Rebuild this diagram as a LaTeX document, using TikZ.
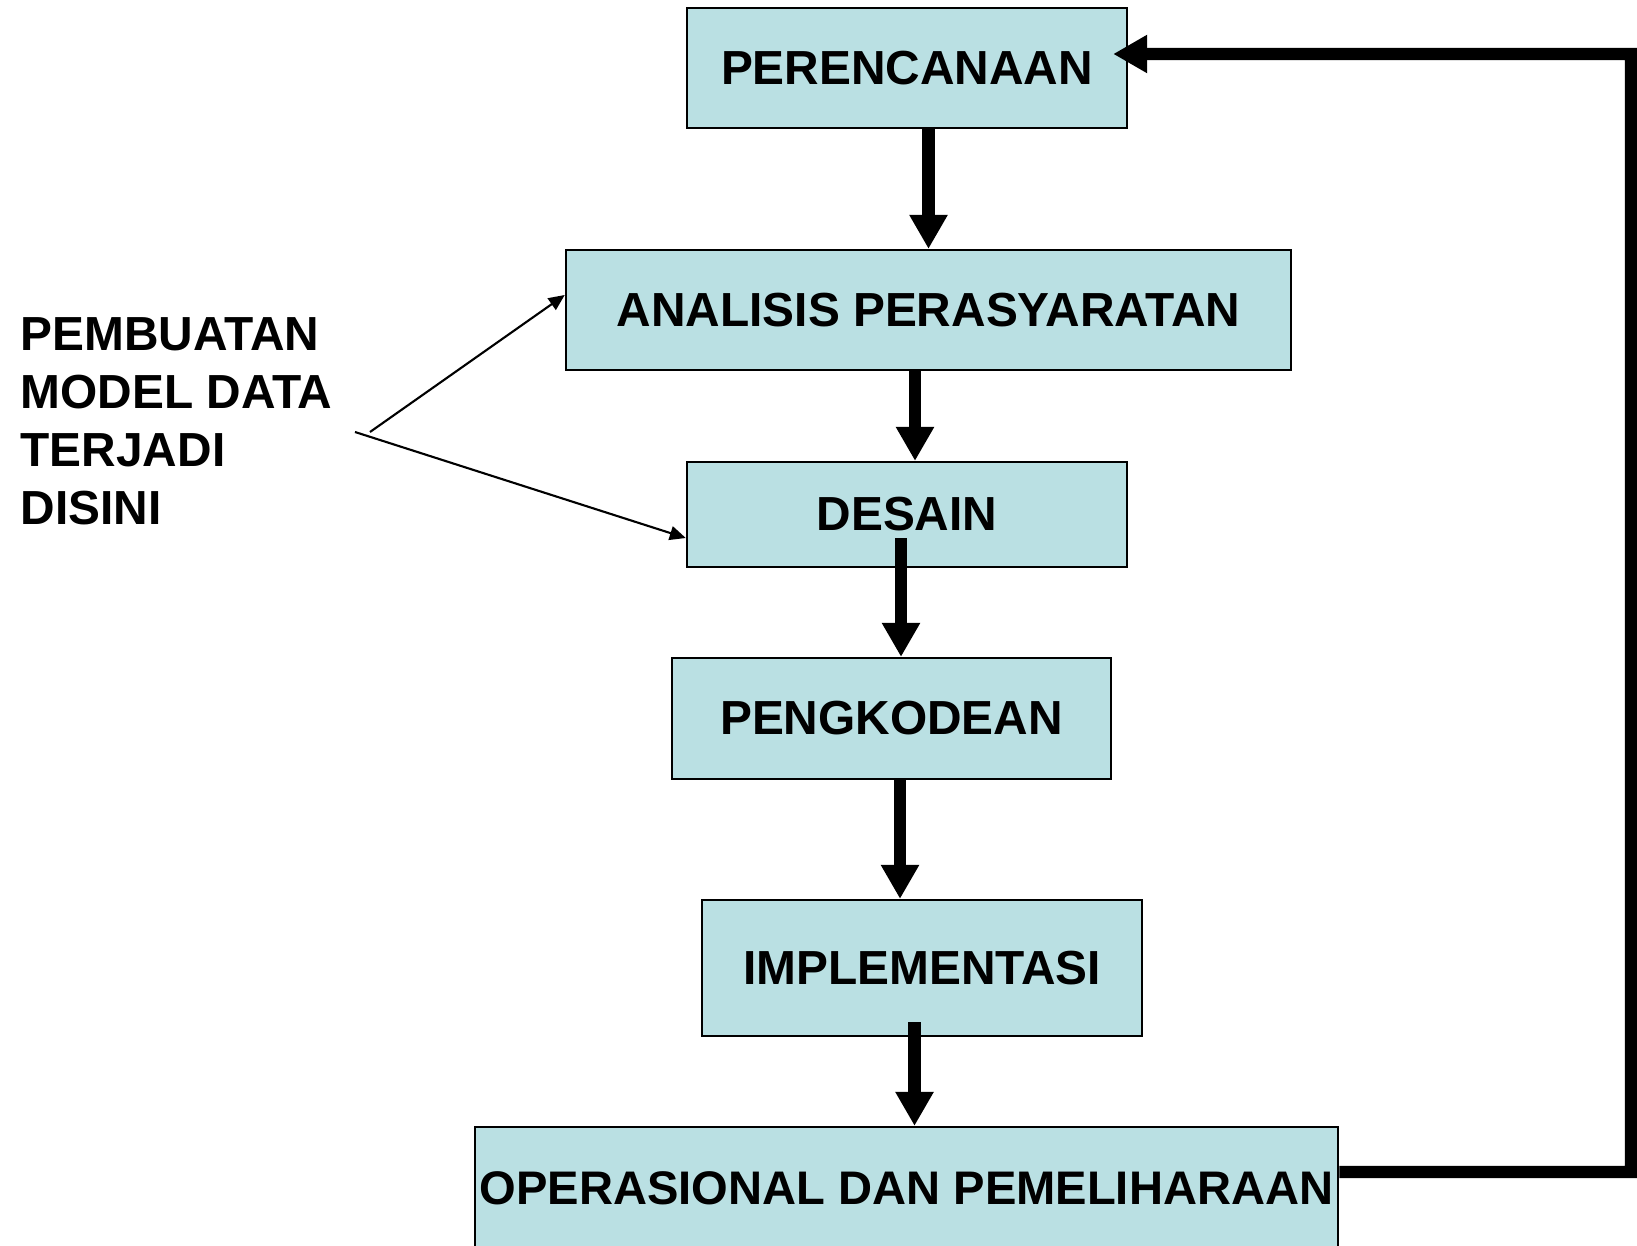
\documentclass[tikz,border=0pt]{standalone}
\usepackage{fontspec}
\setmainfont{Liberation Sans}
\usetikzlibrary{arrows.meta}
\definecolor{kotak}{RGB}{186,224,227}
\tikzset{
  tahap/.style={draw=black, line width=0.6pt, fill=kotak, inner sep=0pt,
    font=\fontsize{13.6pt}{16pt}\selectfont\bfseries},
  panah/.style={line width=3.5pt, -{Triangle[width=0.36cm,length=0.34cm]}},
  panahtipis/.style={line width=0.6pt, -{Triangle[width=0.14cm,length=0.16cm]}}
}
\begin{document}
\begin{tikzpicture}[x=0.01cm,y=-0.01cm]
\useasboundingbox (0,0) rectangle (1637,1246);

% Tahapan
\foreach \nama/\x/\y/\w/\h/\teks in {
plan/907/68/4.40/1.20/PERENCANAAN,
anal/928.5/310/7.25/1.20/ANALISIS PERASYARATAN,
desain/907/514.5/4.40/1.05/DESAIN,
pengk/891.5/718.5/4.39/1.21/PENGKODEAN,
impl/922/968/4.40/1.36/IMPLEMENTASI
}
{
\node[tahap, minimum width=\w cm, minimum height=\h cm] (\nama) at (\x,\y) {\teks};
}
\node[tahap, minimum width=8.63cm, minimum height=1.22cm,
  font=\fontsize{13.4pt}{16pt}\selectfont\bfseries] (oper) at (906.5,1188)
{OPERASIONAL DAN PEMELIHARAAN};

% Keterangan
\node[anchor=north west, align=left, inner sep=0pt,
  font=\fontsize{13.6pt}{16.5pt}\selectfont\bfseries] (catatan) at (20,317)
{PEMBUATAN\\MODEL DATA\\TERJADI\\DISINI};

\coordinate (s1) at (370,432);
\coordinate (s2) at (355,432);
\draw[panahtipis] (s1) -- ([yshift=1.5mm]anal.west);
\draw[panahtipis] (s2) -- ([yshift=-2.35mm]desain.west);

% Alur
\coordinate (k2) at (915,0);
\coordinate (k3) at (901,538);
\coordinate (k4) at (900,0);
\coordinate (k5) at (914.5,1022);
\coordinate (balik) at (1631,54);

\draw[panah] (plan.south -| anal.north) -- (anal.north);
\draw[panah] (anal.south -| k2) -- (desain.north -| k2);
\draw[panah] (k3) -- (pengk.north -| k3);
\draw[panah] (pengk.south -| k4) -- (impl.north -| k4);
\draw[panah] (k5) -- (oper.north -| k5);

% Umpan balik
\draw[panah, shorten >=-0.15cm] ([yshift=1.6mm]oper.east) -| (balik)
  -- ([yshift=1.4mm]plan.east);

\end{tikzpicture}
\end{document}
